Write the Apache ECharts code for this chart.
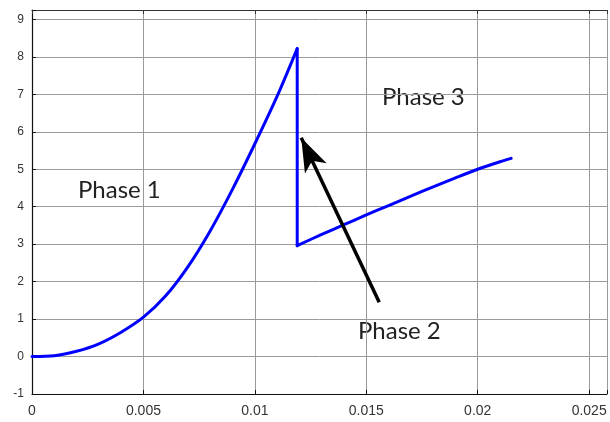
<!DOCTYPE html>
<html>
<head>
<meta charset="utf-8">
<script src="https://cdn.jsdelivr.net/npm/echarts@6/dist/echarts.min.js"></script>
<style>html,body{margin:0;padding:0;background:#fff;}#c{width:610px;height:422px;}</style>
</head>
<body>
<div id="c"></div>
<script>
// Phase 1: rising curve
const phase1X = [0, 0.001, 0.002, 0.003, 0.004, 0.005, 0.006, 0.007, 0.008, 0.009, 0.010, 0.011, 0.0119];
const phase1Y = [0, 0.02, 0.14, 0.34, 0.65, 1.05, 1.62, 2.40, 3.36, 4.47, 5.68, 6.95, 8.22];
// Phase 2: sudden drop
const dropX = [0.0119, 0.0119];
const dropY = [8.22, 2.96];
// Phase 3: recovery
const phase3X = [0.0119, 0.013, 0.014, 0.015, 0.016, 0.017, 0.018, 0.019, 0.020, 0.021, 0.0215];
const phase3Y = [2.96, 3.26, 3.52, 3.78, 4.03, 4.28, 4.53, 4.77, 5.00, 5.20, 5.29];
// Arrow annotation (data coordinates: tail -> tip)
const arrowFrom = [0.01558, 1.45];
const arrowTo = [0.01208, 5.84];
// Text annotations
const phaseLabels = ["Phase 1", "Phase 2", "Phase 3"];
const xTicks = [0, 0.005, 0.01, 0.015, 0.02, 0.025];
const yTicks = [-1, 0, 1, 2, 3, 4, 5, 6, 7, 8, 9];

const zip = (xs, ys) => xs.map((x, i) => [x, ys[i]]);
const blue = '#0000ff';
const lineBase = { type: 'line', showSymbol: false, symbol: 'none', silent: true,
  lineStyle: { color: blue, width: 3, cap: 'round', join: 'round' }, z: 3 };

const chart = echarts.init(document.getElementById('c'));
const xStep = xTicks[1] - xTicks[0];
chart.setOption({
  animation: false,
  backgroundColor: '#fff',
  grid: { left: 32, top: 10, right: 0, bottom: 28 },
  xAxis: [{
    type: 'value', min: xTicks[0], max: 0.0258, interval: xStep,
    axisLine: { show: true, onZero: false, lineStyle: { color: '#111', width: 1.2 } },
    axisTick: { show: true, inside: true, length: 4, lineStyle: { color: '#111' } },
    splitLine: { show: true, lineStyle: { color: '#9a9a9a', width: 1 } },
    axisLabel: { fontFamily: 'Liberation Sans', fontSize: 14, color: '#333', margin: 10,
      formatter: v => { const k = v / xStep; return Math.abs(k - Math.round(k)) < 1e-6 ? String(+v.toFixed(3)) : ''; } }
  }, {
    type: 'value', position: 'top', min: xTicks[0], max: 0.0258, interval: xStep,
    axisLine: { show: true, onZero: false, lineStyle: { color: '#333', width: 1.2 } },
    axisTick: { show: true, inside: true, length: 4, lineStyle: { color: '#333' } },
    splitLine: { show: false }, axisLabel: { show: false }
  }],
  yAxis: {
    type: 'value', min: yTicks[0], max: 9.25, interval: 1,
    axisLine: { show: true, onZero: false, lineStyle: { color: '#111', width: 1.2 } },
    axisTick: { show: true, inside: true, length: 4, lineStyle: { color: '#111' } },
    splitLine: { show: true, lineStyle: { color: '#9a9a9a', width: 1 } },
    axisLabel: { fontFamily: 'Liberation Sans', fontSize: 12, color: '#333', margin: 8,
      formatter: v => (Number.isInteger(v) ? String(v) : '') }
  },
  series: [
    Object.assign({}, lineBase, { data: zip(phase1X, phase1Y), smooth: 0.3 }),
    Object.assign({}, lineBase, { data: zip(dropX, dropY), smooth: false }),
    Object.assign({}, lineBase, { data: zip(phase3X, phase3Y), smooth: 0.3,
      markLine: {
        silent: true, symbol: ['none', 'arrow'], symbolSize: [18, 34],
        label: { show: false },
        lineStyle: { color: '#000', width: 3.5, type: 'solid' },
        emphasis: { disabled: true },
        data: [[{ coord: arrowFrom }, { coord: arrowTo }]],
        z: 4
      } })
  ],
  graphic: [
    { type: 'text', x: 78, y: 190.5, style: { text: phaseLabels[0], font: '24px Lato', fill: '#222', verticalAlign: 'middle' } },
    { type: 'text', x: 358, y: 331, style: { text: phaseLabels[1], font: '24px Lato', fill: '#222', verticalAlign: 'middle' } },
    { type: 'text', x: 382, y: 97.5, style: { text: phaseLabels[2], font: '24px Lato', fill: '#222', verticalAlign: 'middle' } }
  ]
});
</script>
</body>
</html>
